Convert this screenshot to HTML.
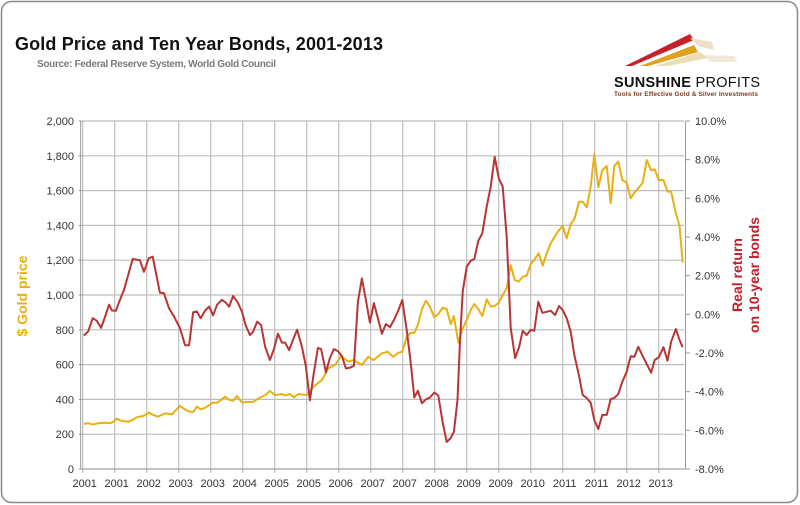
<!DOCTYPE html>
<html><head><meta charset="utf-8"><style>
body{margin:0;background:#fff;}
#wrap{position:relative;width:800px;height:505px;overflow:hidden;font-family:"Liberation Sans",sans-serif;}
</style></head><body>
<div id="wrap">
<svg id="svg" width="800" height="505" xmlns="http://www.w3.org/2000/svg">
<rect x="1.5" y="1.5" width="796" height="501" rx="10" fill="#fff" stroke="#8a8a8a" stroke-width="1.5"/>
<text x="15" y="50" font-size="18" font-weight="bold" fill="#111" textLength="368">Gold Price and Ten Year Bonds, 2001-2013</text>
<text x="37" y="67" font-size="10" font-weight="bold" fill="#7a7a7a" textLength="239">Source: Federal Reserve System, World Gold Council</text>
<g>
<polygon points="625,66 690,34 694,40 632,66" fill="#c8202a"/>
<polygon points="640,66 694,45 698,52 648,66" fill="#e0a020"/>
<polygon points="655,66 700,52 708,58 668,66" fill="#eadcb4"/>
<polygon points="690,38 712,42 714,50 698,46" fill="#eee0c8"/>
<polygon points="705,55 735,56 737,62 710,62" fill="#f0e8d8"/>
<text x="614" y="87" font-size="14.5" font-weight="bold" fill="#111" textLength="146">SUNSHINE <tspan font-weight="normal">PROFITS</tspan></text>
<text x="614" y="96" font-size="6.5" font-weight="bold" fill="#7a3a20" textLength="144">Tools for Effective Gold &amp; Silver Investments</text>
</g>
<g id="grid"></g><g id="axes"></g><g id="series"></g>
<text transform="translate(27,296) rotate(-90)" text-anchor="middle" font-size="14" font-weight="bold" fill="#e8b010">$ Gold price</text>
<text transform="translate(742,275) rotate(-90)" text-anchor="middle" font-size="14" font-weight="bold" fill="#c0202a">Real return</text>
<text transform="translate(759,275) rotate(-90)" text-anchor="middle" font-size="14" font-weight="bold" fill="#c0202a">on 10-year bonds</text>
</svg>
</div>
<script>
const xTickLabels=["2001","2001","2002","2003","2003","2004","2005","2005","2006","2007","2007","2008","2009","2009","2010","2011","2011","2012","2013"];
const leftTicks=[0,200,400,600,800,1000,1200,1400,1600,1800,2000];
const rightTicks=[-8,-6,-4,-2,0,2,4,6,8,10];
const goldMonths=[0.3,1.4,2.5,3.9,5.6,6.8,7.7,8.5,9.8,11.4,12.5,13.5,15.2,16.6,17.7,18.8,20.6,22.3,22.9,24.3,25.8,27,27.7,28.5,29.5,30.6,32.5,33.7,35.6,36.6,37.7,38.5,39.8,42.7,43.9,45.6,46.8,48.1,49.8,50.6,51.8,52.8,53.9,56,57.7,59.8,61.4,63.1,64.6,66.4,67.7,69.8,71.4,72.7,74.8,76.3,77.6,78.9,79.9,81,82,82.9,83.8,84.8,85.8,86.8,87.9,88.9,90,91,92,92.8,93.9,94.9,96,97,97.9,98.9,99.9,101,102,103,104,105,106,107,108,109,110,111,112,113,114,115,116,117,118,119,120,121,122,122.9,124.1,125,126,127,127.9,128.9,129.9,131,132,132.9,133.9,134.9,136,137,137.9,138.9,140,141,142.1,143,144,145.2,146.2,147.1,148.3,149.2,150];
const goldValues=[259,263,255,263,266,263,272,289,276,272,282,297,305,324,310,301,320,314,329,362,339,328,329,358,343,352,381,381,416,397,393,420,383,387,406,425,448,425,431,423,431,412,431,425,473,511,579,598,649,617,626,598,645,626,665,674,645,668,674,760,783,783,828,918,967,933,872,891,927,918,833,879,726,803,856,914,948,918,879,975,933,937,956,1000,1038,1172,1086,1077,1105,1111,1178,1205,1240,1168,1240,1297,1335,1370,1397,1326,1408,1435,1536,1536,1504,1622,1810,1619,1718,1741,1527,1741,1766,1661,1645,1556,1588,1613,1645,1776,1718,1722,1661,1661,1594,1594,1469,1397,1186];
const bondMonths=[0.3,1.4,2.5,3.5,4.6,5.3,6.6,7.3,8.3,9.6,10.3,12.5,14.3,15.3,16.5,17.5,19.3,20.3,21.6,22.8,24.3,25.6,26.6,27.6,28.5,29.5,30.6,31.6,32.6,33.6,34.8,35.8,36.6,37.6,38.8,39.8,40.8,41.8,42.6,43.6,44.6,45.6,46.8,47.8,48.8,49.8,50.6,51.6,52.6,53.6,54.8,55.8,56.8,57.8,58.8,59.6,60.8,61.8,62.8,63.8,64.8,65.8,66.8,67.8,68.8,69.8,70.8,71.8,72.8,73.8,74.8,75.8,76.8,77.8,78.9,79.9,81,82,82.9,83.8,84.8,85.8,86.8,87.9,88.9,90,91,92,92.8,93.7,94.3,95,96,97,97.9,98.9,99.9,101,102,103,104,105,106,107,108.1,109.1,110,111,112,112.9,113.9,114.9,116,117,118.1,119.1,120,121,122,122.9,124.1,125,126,127,127.9,128.9,129.9,131,132,132.9,133.9,134.9,136,137,137.9,138.9,140,141,142.1,143,144,145.2,146.2,147.1,148.3,149.2,150];
const bondValues=[-1.1,-0.87,-0.2,-0.33,-0.7,-0.3,0.5,0.2,0.19,0.9,1.25,2.86,2.8,2.2,2.9,2.98,1.12,1.1,0.3,-0.1,-0.7,-1.6,-1.6,0.1,0.15,-0.2,0.2,0.4,-0.05,0.5,0.75,0.6,0.4,0.95,0.6,0.14,-0.6,-1.07,-0.9,-0.38,-0.55,-1.67,-2.36,-1.8,-1.0,-1.46,-1.46,-1.85,-1.3,-0.8,-1.67,-2.7,-4.45,-3.0,-1.74,-1.8,-3.0,-2.26,-1.8,-1.9,-2.16,-2.8,-2.76,-2.66,0.65,1.86,0.74,-0.43,0.58,-0.2,-1.0,-0.5,-0.66,-0.3,0.2,0.74,-0.8,-2.5,-4.3,-3.95,-4.6,-4.4,-4.3,-4.05,-4.2,-5.6,-6.6,-6.4,-6.07,-4.43,-1.5,1.17,2.46,2.77,2.86,3.8,4.19,5.57,6.6,8.15,7.05,6.6,4.0,-0.7,-2.26,-1.7,-0.85,-1.07,-0.8,-0.85,0.65,0.08,0.13,0.19,-0.04,0.43,0.22,-0.2,-0.9,-2.1,-3.2,-4.17,-4.33,-4.57,-5.47,-5.93,-5.2,-5.2,-4.38,-4.33,-4.12,-3.49,-2.97,-2.16,-2.2,-1.68,-2.16,-2.57,-3.02,-2.36,-2.22,-1.7,-2.4,-1.42,-0.76,-1.33,-1.7];

const NS="http://www.w3.org/2000/svg";
const X0=82.7,PX=4,YT=121,YB=469,XR=684;
const xs=m=>X0+m*PX;
const yL=v=>YB-(v/2000)*(YB-YT);
const yR=v=>YB-((v+8)/18)*(YB-YT);
function mk(tag,attrs,parent){const e=document.createElementNS(NS,tag);for(const k in attrs)e.setAttribute(k,attrs[k]);parent.appendChild(e);return e;}
const grid=document.getElementById('grid'),axes=document.getElementById('axes'),series=document.getElementById('series');
leftTicks.forEach(v=>{
  const g=mk('line',{x1:X0,x2:XR,y1:yL(v),y2:yL(v),stroke:'#bdbdbd','stroke-width':1.2},grid);
  
  
  const t=mk('line',{x1:X0-4,x2:X0,y1:yL(v),y2:yL(v),stroke:'#999'},axes);
  
  
  const l=mk('text',{x:74,y:yL(v)+4,'text-anchor':'end','font-size':11,fill:'#333'},axes);
  l.textContent=v.toLocaleString('en-US');
  
  
});
xTickLabels.forEach((s,i)=>{
  const x=xs(i*8);
  const g=mk('line',{x1:x,x2:x,y1:YT,y2:YB+4,stroke:'#bdbdbd','stroke-width':1.2},grid);
  
  
  const l=mk('text',{x:x+2,y:487,'text-anchor':'middle','font-size':11,fill:'#333'},axes);
  l.textContent=s;
  
  
});
rightTicks.forEach(v=>{
  const t=mk('line',{x1:685.5,x2:690,y1:yR(v),y2:yR(v),stroke:'#999'},axes);
  
  
  const l=mk('text',{x:695,y:yR(v)+4,'font-size':11,fill:'#333'},axes);
  l.textContent=v.toFixed(1)+'%';
  
  
});
const la=mk('line',{x1:X0-2,x2:X0-2,y1:YT,y2:YB,stroke:'#999'},axes);


const ra=mk('line',{x1:685.5,x2:685.5,y1:YT,y2:YB,stroke:'#999'},axes);


const ba=mk('line',{x1:X0-2,x2:685.5,y1:YB,y2:YB,stroke:'#999'},axes);


const gp=mk('polyline',{points:goldMonths.map((m,i)=>xs(m).toFixed(1)+','+yL(goldValues[i]).toFixed(1)).join(' '),fill:'none',stroke:'#e8b010','stroke-width':2,'stroke-linejoin':'round'},series);


const bp=mk('polyline',{points:bondMonths.map((m,i)=>xs(m).toFixed(1)+','+yR(bondValues[i]).toFixed(1)).join(' '),fill:'none',stroke:'#b83535','stroke-width':2,'stroke-linejoin':'round'},series);


</script>
</body></html>
